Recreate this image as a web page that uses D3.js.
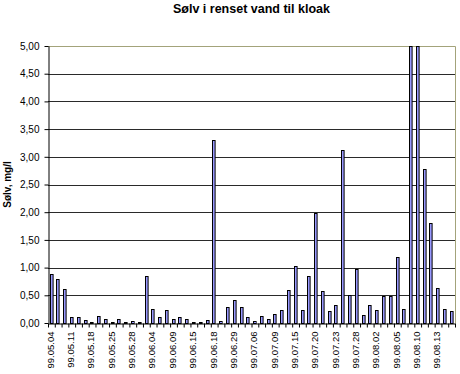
<!DOCTYPE html>
<html>
<head>
<meta charset="utf-8">
<script src="https://cdn.jsdelivr.net/npm/d3@7"></script>
<style>
  html, body { margin: 0; padding: 0; background: #fff; }
  svg { display: block; }
  text { font-family: "Liberation Sans", Arial, sans-serif; fill: #000; }
</style>
</head>
<body>
<svg id="chart" width="460" height="374"></svg>
<script>
const title = "Sølv i renset vand til kloak";
const yTitle = "Sølv, mg/l";
const tickLabels = ["99.05.04","99.05.11","99.05.18","99.05.25","99.05.28","99.06.04","99.06.09","99.06.15","99.06.18","99.06.29","99.07.06","99.07.09","99.07.15","99.07.20","99.07.23","99.07.28","99.08.02","99.08.05","99.08.10","99.08.13"];
const values = [0.88,0.79,0.61,0.11,0.11,0.05,0.02,0.13,0.07,0.01,
                0.07,0.01,0.03,0.01,0.85,0.25,0.10,0.23,0.08,0.11,
                0.08,0.02,0.01,0.05,3.31,0.03,0.29,0.41,0.28,0.10,
                0.03,0.13,0.07,0.16,0.23,0.59,1.03,0.23,0.84,1.98,
                0.58,0.22,0.33,3.13,0.51,0.97,0.14,0.33,0.23,0.49,
                0.49,1.20,0.25,5.00,5.00,2.78,1.80,0.63,0.25,0.22];
const yTicks = [0,0.5,1,1.5,2,2.5,3,3.5,4,4.5,5];

const svg = d3.select("#chart");
const L = 48, R = 455, T = 46, B = 323;

const x = d3.scaleBand().domain(d3.range(values.length)).range([L, R]);
const xEdge = d3.scaleLinear().domain([0, values.length]).range([L, R]);
const y = d3.scaleLinear().domain([0, 5]).range([B, T]);
const fmt = v => d3.format(".2f")(v).replace(".", ",");

// gridlines
svg.append("g").selectAll("line").data(yTicks.filter(v => v > 0 && v < 5)).join("line")
  .attr("x1", L).attr("x2", R)
  .attr("y1", d => Math.round(y(d)) + 0.5).attr("y2", d => Math.round(y(d)) + 0.5)
  .attr("stroke", "#2a2a2a").attr("stroke-width", 1);

// plot border (top/right)
svg.append("path")
  .attr("d", `M${L},${Math.round(T)+0.5}H${R+0.5}V${B}`)
  .attr("fill", "none").attr("stroke", "#a3a37a").attr("stroke-width", 1);

// bars
const bw = 2.6;
svg.append("g").selectAll("rect").data(values).join("rect")
  .attr("x", (d, i) => Math.round(x(i) + x.bandwidth() / 2 - bw / 2 - 0.5) + 0.5)
  .attr("y", d => Math.round(y(d)) + 0.5)
  .attr("width", bw)
  .attr("height", d => Math.max(0, Math.round(y(0)) - Math.round(y(d))))
  .attr("fill", "#9999ff").attr("stroke", "#000").attr("stroke-width", 1);

// y axis
const yAxis = svg.append("g").attr("transform", `translate(${L + 0.5},0)`)
  .call(d3.axisLeft(y).tickValues(yTicks).tickFormat(fmt).tickSize(4).tickPadding(5).tickSizeOuter(0));
yAxis.select(".domain").attr("stroke", "#000");
yAxis.selectAll(".tick line").attr("stroke", "#000");
yAxis.selectAll("text").style("font-size", "10px").attr("fill", "#000");

// x axis ticks at category edges
const xTickAxis = svg.append("g").attr("transform", `translate(0,${B + 0.5})`)
  .call(d3.axisBottom(xEdge).tickValues(d3.range(values.length + 1)).tickFormat("").tickSize(4).tickSizeOuter(0));
xTickAxis.select(".domain").attr("stroke", "#000");
xTickAxis.selectAll(".tick line").attr("stroke", "#000");

// x labels
const xLab = svg.append("g").attr("transform", `translate(-1,${B})`)
  .call(d3.axisBottom(x).tickValues(d3.range(0, values.length, 3))
        .tickFormat(i => tickLabels[i / 3]).tickSize(0).tickPadding(0));
xLab.select(".domain").remove();
xLab.selectAll("text")
  .style("font-size", "9.5px")
  .attr("fill", "#000")
  .attr("text-anchor", "end")
  .attr("dy", "0.35em")
  .attr("transform", "translate(0,8.5) rotate(-90)")
  .attr("x", 0).attr("y", 0);

// title
svg.append("text")
  .attr("x", (L + R) / 2).attr("y", 13)
  .attr("text-anchor", "middle")
  .style("font-size", "12.5px").style("font-weight", "bold")
  .text(title);

// y title
svg.append("text")
  .attr("transform", `translate(11,${(T + B) / 2}) rotate(-90)`)
  .attr("text-anchor", "middle")
  .style("font-size", "10px").style("font-weight", "bold")
  .text(yTitle);
</script>
</body>
</html>
